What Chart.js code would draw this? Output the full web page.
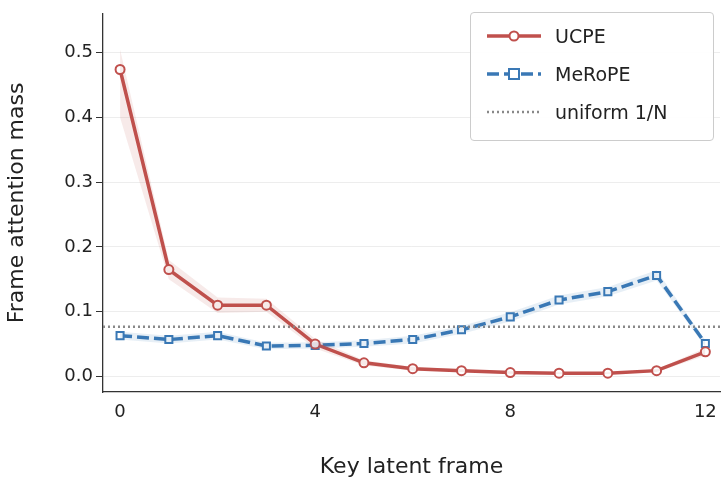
<!DOCTYPE html>
<html><head><meta charset="utf-8">
<script src="https://cdn.jsdelivr.net/npm/chart.js@4"></script>
<style>
body{margin:0;background:#fff;font-family:"DejaVu Sans",sans-serif}
#wrap{position:relative;width:727px;height:484px}
#legend{position:absolute;left:470px;top:12px;width:242px;height:127px;border:1px solid #ccc;border-radius:4px;background:rgba(255,255,255,0.9);font-size:19px;color:#222}
#legend div{position:absolute;left:14px;display:flex;align-items:center}
#legend svg{margin-right:12px}
</style></head><body>
<div id="wrap"><canvas id="c" width="727" height="484"></canvas>
<div id="legend">
<div style="top:12px"><svg width="58" height="14"><line x1="2" y1="7" x2="56" y2="7" stroke="#c0504d" stroke-width="3.5"/><circle cx="29" cy="7" r="4.5" fill="#fff" stroke="#c0504d" stroke-width="2"/></svg>UCPE</div>
<div style="top:50px"><svg width="58" height="14"><line x1="2" y1="7" x2="56" y2="7" stroke="#3a78b5" stroke-width="3.5" stroke-dasharray="12 5"/><rect x="24" y="2" width="10" height="10" fill="#fff" stroke="#3a78b5" stroke-width="2"/></svg>MeRoPE</div>
<div style="top:88px"><svg width="58" height="14"><line x1="2" y1="7" x2="56" y2="7" stroke="#888" stroke-width="2.5" stroke-dasharray="2 3"/></svg>uniform 1/N</div>
</div></div>
<script>
const frames = [0,1,2,3,4,5,6,7,8,9,10,11,12];
const ucpe = [0.474,0.165,0.110,0.110,0.050,0.021,0.012,0.009,0.006,0.005,0.005,0.009,0.038];
const ucpeLo = [0.40,0.150,0.098,0.100,0.043,0.017,0.009,0.007,0.004,0.004,0.004,0.007,0.032];
const ucpeHi = [0.505,0.180,0.122,0.120,0.058,0.025,0.015,0.011,0.008,0.006,0.006,0.011,0.044];
const merope = [0.063,0.057,0.063,0.047,0.048,0.051,0.057,0.072,0.092,0.118,0.131,0.156,0.051];
const meropeLo = [0.057,0.051,0.057,0.042,0.043,0.046,0.051,0.066,0.085,0.111,0.124,0.148,0.046];
const meropeHi = [0.069,0.063,0.069,0.052,0.053,0.056,0.063,0.078,0.099,0.125,0.138,0.164,0.056];
const uniform = 1/13;
const yTicks = [0,0.1,0.2,0.3,0.4,0.5];
const xTicks = [0,4,8,12];

const pts = a => a.map((v,i)=>({x:frames[i],y:v}));
new Chart(document.getElementById('c'),{
  type:'line',
  data:{datasets:[
    {data:pts(ucpeLo),borderWidth:0,pointRadius:0,fill:false},
    {data:pts(ucpeHi),borderWidth:0,pointRadius:0,fill:'-1',backgroundColor:'rgba(192,80,77,0.12)'},
    {data:pts(meropeLo),borderWidth:0,pointRadius:0,fill:false},
    {data:pts(meropeHi),borderWidth:0,pointRadius:0,fill:'-1',backgroundColor:'rgba(58,120,181,0.12)'},
    {data:[{x:-0.35,y:uniform},{x:12.3,y:uniform}],borderColor:'#888',borderWidth:2.5,borderDash:[2,3],pointRadius:0},
    {data:pts(ucpe),borderColor:'#c0504d',borderWidth:3.5,pointRadius:4.5,pointBackgroundColor:'#fff',pointBorderColor:'#c0504d',pointBorderWidth:2},
    {data:pts(merope),borderColor:'#3a78b5',borderWidth:3.5,borderDash:[12,5],pointStyle:'rect',pointRadius:5,pointBackgroundColor:'#fff',pointBorderColor:'#3a78b5',pointBorderWidth:2}
  ]},
  options:{responsive:false,animation:false,
    layout:{padding:{top:0,right:6,left:0,bottom:0}},
    plugins:{legend:{display:false},tooltip:{enabled:false}},
    scales:{
      x:{type:'linear',min:-0.35,max:12.3,
        afterBuildTicks:s=>{s.ticks=xTicks.map(v=>({value:v}));},
        afterFit:s=>{s.height=92;},
        grid:{display:false,drawTicks:true,tickLength:7,tickColor:'#333'},
        border:{color:'#333',width:1.3},
        ticks:{color:'#222',font:{family:'DejaVu Sans',size:18}},
        title:{display:true,text:'Key latent frame',color:'#222',font:{family:'DejaVu Sans',size:22},padding:{top:10}}},
      y:{min:-0.024,max:0.56,
        afterBuildTicks:s=>{s.ticks=yTicks.map(v=>({value:v}));},
        afterFit:s=>{s.width=103;},
        grid:{color:'rgba(0,0,0,0.07)',tickColor:'#333',tickLength:7},
        border:{color:'#333',width:1.3},
        ticks:{color:'#222',font:{family:'DejaVu Sans',size:18},callback:v=>v.toFixed(1)},
        title:{display:true,text:'Frame attention mass',color:'#222',font:{family:'DejaVu Sans',size:22}}}
    }}
});
</script></body></html>
